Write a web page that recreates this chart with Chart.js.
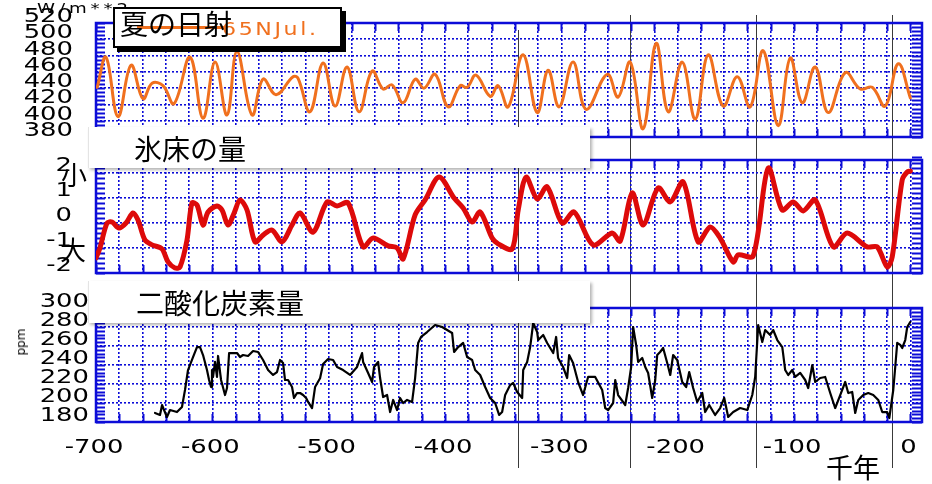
<!DOCTYPE html>
<html>
<head>
<meta charset="utf-8">
<script src="https://cdn.jsdelivr.net/npm/chart.js@4/dist/chart.umd.min.js"></script>
<style>
html, body { margin: 0; padding: 0; background: #fff; }
#wrap { position: relative; width: 932px; height: 484px; overflow: hidden; background: #fff; }
#wrap canvas { position: absolute; left: 0; top: 0; }
.t { position: absolute; white-space: nowrap; line-height: 1; }
.jp { font-family: "Noto Sans CJK JP", sans-serif; color: #000; }
.dv { font-family: "DejaVu Sans", sans-serif; }
.box { position: absolute; background: #fff; box-sizing: border-box; }
</style>
</head>
<body>
<div id="wrap">
  <canvas id="insolChart" width="932" height="484"></canvas>
  <canvas id="iceChart" width="932" height="484"></canvas>
  <canvas id="co2Chart" width="932" height="484"></canvas>

  <div class="t dv" style="left:37px;top:1px;font-size:14px;letter-spacing:3px;color:#000;transform:scaleX(1.3);transform-origin:0 0;">W/m**2</div>
  <div class="t jp" style="left:61px;top:161px;font-size:26px;">小</div>
  <div class="t jp" style="left:60px;top:236px;font-size:26px;">大</div>
  <div class="t dv" style="left:21px;top:342px;font-size:12px;color:#000;transform:translate(-50%,-50%) rotate(-90deg);">ppm</div>

  <div class="box" style="left:113px;top:7px;width:229px;height:41px;border:2px solid #000;box-shadow:4px 4px 0 #000;">
    <div style="position:absolute;left:22px;top:17px;width:88px;height:3px;background:#f0701e;"></div>
    <div class="t dv" style="left:107px;top:12px;font-size:17px;letter-spacing:2px;color:#f0701e;transform:scaleX(1.3);transform-origin:0 0;">65NJul.</div>
    <div class="t jp" style="left:5px;top:0px;font-size:28px;">夏の日射</div>
  </div>
  <div class="box" style="left:88px;top:127px;width:502px;height:41px;box-shadow:2px 2px 3px rgba(0,0,0,0.3);border-left:1px solid #e4e4e4;">
    <div class="t jp" style="left:45px;top:7px;font-size:28px;">氷床の量</div>
  </div>
  <div class="box" style="left:88px;top:281px;width:502px;height:42px;box-shadow:2px 2px 3px rgba(0,0,0,0.3);border-left:1px solid #e4e4e4;">
    <div class="t jp" style="left:47px;top:7px;font-size:28px;">二酸化炭素量</div>
  </div>
  <div class="t jp" style="left:826px;top:453px;font-size:27px;">千年</div>
</div>

<script>
// Summer insolation at 65N in July (W/m^2), by age in thousands of years
const insolKa = [-699, -691.4, -681.1, -669.9, -659.6, -651.8, -642.4, -632.9, -619.2, -608,
  -597.7, -587.4, -578.8, -565.9, -556.4, -545.2, -530.6, -526.3, -516, -504.8,
  -494.5, -484.2, -473.9, -462.7, -453.2, -445.5, -436, -425.7, -418, -408.5,
  -397.3, -387, -381, -373.3, -361.2, -354.3, -345.7, -332.9, -320.8, -311.4,
  -301.9, -289.9, -278.7, -260.6, -251.2, -240.8, -229.7, -218.5, -208.2, -196.1,
  -184.9, -173.8, -160.9, -148.8, -137.7, -126.5, -113.6, -103.3, -92.9, -81.8,
  -70.6, -56, -43.1, -32.8, -21.6, -10.4, 0];
const insolW = [441, 478, 405, 468, 427, 446, 443, 421, 478, 403,
  472, 407, 485, 407, 451, 432, 454, 452, 411, 471,
  418, 466, 411, 461, 439, 444, 422, 451, 440, 457,
  417, 443, 441, 456, 430, 443, 417, 481, 410, 462,
  417, 472, 414, 457, 429, 472, 390, 495, 411, 472,
  402, 481, 418, 454, 417, 486, 394, 477, 422, 466,
  410, 459, 439, 441, 418, 470, 428];

// Ice volume index (up = small ice sheets, down = large)
const iceKa = [-700, -696.6, -690.5, -686.2, -680.2, -674.2, -668.2, -663.9, -657.9, -651.8,
  -643.3, -638.1, -632.1, -627.8, -621.8, -617.5, -613.2, -608, -603.7, -596,
  -591.7, -586.5, -581.3, -576.2, -570.2, -563.3, -556.4, -548.7, -540.1, -531.5,
  -524.6, -513.4, -501.4, -492.8, -483.3, -470.4, -461.8, -448.9, -441.2, -436,
  -425.7, -417.1, -405.1, -392.2, -384.4, -376.7, -369.8, -359.5, -354.3, -342.3,
  -337.1, -330.3, -320.8, -312.2, -299.3, -289, -272.7, -256.3, -249.4, -239.1,
  -229.7, -216.8, -206.4, -195.3, -182.4, -172.1, -163.5, -152.3, -148, -135.1,
  -122.2, -110.2, -100.7, -92.1, -81.8, -66.3, -54.3, -37.1, -28.5, -19.9,
  -15.6, -7, -2.7, 0];
const iceIndex = [-1.4, -1.0, -0.01, 0.03, -0.21, -0.01, 0.39, 0.11, -0.69, -0.88,
  -1.04, -1.56, -1.8, -1.76, -0.69, 0.79, 0.71, -0.09, 0.43, 0.67,
  0.51, -0.09, 0.39, 0.91, 0.51, -0.76, -0.49, -0.29, -0.76, -0.09,
  0.39, -0.37, 0.83, 0.67, 0.79, -0.96, -0.61, -0.92, -1.0, -1.44,
  0.31, 0.91, 1.82, 0.99, 0.59, 0.03, 0.43, -0.61, -0.84, -1.04,
  0.51, 1.82, 0.95, 1.43, -0.01, 0.43, -0.88, -0.41, -0.73, 1.19,
  -0.09, 1.39, 0.83, 1.63, -0.76, -0.17, -0.61, -1.56, -1.28, -1.32,
  2.18, 0.51, 0.83, 0.47, 0.91, -0.96, -0.41, -0.96, -0.96, -1.76,
  -1.36, 1.71, 2.02, 2.06];

// Atmospheric CO2 (ppm)
const co2Ka = [-649.3, -645, -643.2, -641.5, -639, -636.4, -630.4, -626.1, -623.5, -620.9,
  -616.6, -613.2, -610.6, -608, -604.6, -602.8, -601.1, -600.3, -599.4, -597.7,
  -596, -595.1, -592.5, -589.1, -587.4, -585.6, -578.8, -576.2, -573.6, -569.3,
  -565, -560.7, -556.4, -552.1, -547.8, -544.4, -541.8, -539.2, -537.5, -534.9,
  -531.5, -529.8, -527.2, -524.6, -522, -519.4, -517.7, -514.3, -511.7, -507.4,
  -504.8, -500.5, -496.2, -492.8, -487.6, -481.6, -475.6, -471.3, -470.4, -466.1,
  -462.7, -461, -457.5, -455.8, -453.2, -449.8, -447.2, -444.6, -441.2, -438.6,
  -436, -432.6, -428.3, -425.7, -423.1, -420.6, -415.4, -408.5, -402.5, -398.2,
  -393.9, -392.2, -388.7, -384.4, -381, -376.7, -374.1, -369.8, -365.5, -361.2,
  -356.9, -353.5, -350.9, -348.3, -344, -341.4, -338, -333.7, -332.8, -329.4,
  -326.8, -324.2, -320.8, -319.9, -315.6, -312.2, -307, -304.5, -302.8, -298.5,
  -295, -293.3, -289.9, -285.6, -281.3, -277, -270.9, -264.9, -262.3, -259.8,
  -255.5, -253.7, -251.2, -245.1, -242.6, -240, -238.3, -235.7, -234, -230.5,
  -227.9, -225.4, -221.9, -219.3, -217.6, -215.1, -212.5, -209, -206.4, -203.9,
  -200.4, -196.1, -192.7, -190.1, -186.7, -183.2, -178.9, -176.4, -172.9, -167.8,
  -163.5, -160, -156.6, -152.3, -146.3, -140.2, -135.9, -133.4, -130.8, -127.3,
  -124.8, -120.5, -117.9, -114.4, -110.1, -107.6, -105, -101.5, -99, -94.7,
  -90.4, -87.8, -84.3, -81.8, -77.5, -73.2, -68.9, -64.6, -60.3, -56,
  -53.4, -50, -47.4, -44.8, -40.5, -36.2, -31.9, -27.6, -24.2, -19.9,
  -18.1, -14.7, -13, -11.3, -8.7, -7, -4.4, -2.7, -0.1];
const co2Ppm = [189.5, 187.4, 197.9, 192.6, 185.3, 192.6, 190.5, 195.8, 213.7, 234.7,
  248.4, 258.9, 258.9, 250.5, 234.7, 224.2, 216.8, 234.7, 227.4, 243.2,
  227.4, 249.5, 224.2, 208.4, 215.8, 252.6, 252.6, 248.4, 250.5, 249.5,
  254.7, 253.7, 245.3, 234.7, 229.5, 232.6, 245.3, 242.1, 224.2, 224.2,
  216.8, 205.3, 210.5, 210.5, 208.4, 205.3, 201.1, 194.7, 216.8, 226,
  241, 246.3, 245.3, 237.9, 234.7, 229.5, 237.9, 252.6, 243.2, 231.6,
  222.1, 237.9, 243.2, 226.3, 206.3, 208.4, 190.5, 203.2, 192.6, 205.3,
  200, 203.2, 201.1, 226.3, 263.2, 269.5, 274.7, 282.1, 280, 276.8,
  273.7, 253.7, 258.9, 263.2, 248.4, 245.3, 234.7, 229.5, 216.8, 205.3,
  200, 187.4, 190.5, 208.4, 218.9, 221.1, 211.6, 205.3, 234.7, 243.2,
  258.9, 284.2, 274.7, 266.3, 271.6, 263.2, 252.6, 269.5, 247.4, 237.9,
  226.3, 250.5, 242.1, 222.1, 208.4, 227.4, 227.4, 213.7, 194.7, 192.6,
  200, 224.2, 208.4, 197.9, 215.8, 237.9, 280, 261.1, 243.2, 247.4,
  237.9, 231.6, 205.3, 224.2, 250.5, 253.7, 257.9, 242.1, 229.5, 250.5,
  245.3, 222.1, 216.8, 232.6, 215.8, 201.1, 210.5, 190.5, 197.9, 187.4,
  194.7, 205.3, 185.3, 190.5, 194.7, 192.6, 208.4, 227.4, 282.1, 264.2,
  276.8, 271.6, 276.8, 266.3, 258.9, 234.7, 229.5, 234.7, 227.4, 231.6,
  224.2, 215.8, 240, 222.1, 226.3, 227.4, 210.5, 194.7, 208.4, 222.1,
  210.5, 211.6, 189.5, 203.2, 208.4, 210.5, 208.4, 203.2, 190.5, 190.5,
  184.2, 213.7, 237.9, 263.2, 261.1, 257.9, 266.3, 280, 285.3];

// Ages of the glacial terminations marked across all panels
const terminations = [-337, -241, -133, -16];

const BLUE = '#0c0cd8';
const LABEL_FONT = '19px "DejaVu Sans"';
const LABEL_STRETCH = 1.36;

function pairs(xs, ys) { return xs.map((x, i) => ({ x, y: ys[i] })); }

// Horizontally widened tick labels, placed from the scales' own ticks
const labelPlugin = {
  id: 'wideLabels',
  afterDraw(chart, args, o) {
    const { ctx, scales: { x, y } } = chart;
    const put = (text, px, py, align) => {
      ctx.save();
      ctx.translate(px, py);
      ctx.scale(LABEL_STRETCH, 1);
      ctx.textAlign = align;
      ctx.fillText(text, 0, 0);
      ctx.restore();
    };
    ctx.save();
    ctx.fillStyle = '#000';
    ctx.font = LABEL_FONT;
    ctx.textBaseline = 'middle';
    y.ticks.forEach(t => put(String(t.value), o.yRight, y.getPixelForValue(t.value) + o.yOffset, 'right'));
    if (o.xLabelY) {
      x.ticks.forEach(t => {
        if (t.value % 100 === 0) put(String(t.value), x.getPixelForValue(t.value) - 2, o.xLabelY, 'center');
      });
    }
    ctx.restore();
  }
};

// Solid frame with minor-tick combs on the left/right edges and short marks on top/bottom
const framePlugin = {
  id: 'frame',
  beforeDatasetsDraw(chart, args, opts) {
    const { ctx, chartArea: a, scales: { x, y } } = chart;
    ctx.save();
    ctx.strokeStyle = BLUE;
    ctx.lineWidth = 2;
    ctx.beginPath();
    const n = Math.round((y.max - y.min) / opts.minorStep);
    for (let i = 0; i <= n; i++) {
      const py = Math.round(y.getPixelForValue(y.min + i * opts.minorStep)) + 0.5;
      ctx.moveTo(a.left, py); ctx.lineTo(a.left + 9, py);
      ctx.moveTo(a.right, py); ctx.lineTo(a.right - 10, py);
    }
    x.ticks.forEach(t => {
      const px = Math.round(x.getPixelForValue(t.value)) + 0.5;
      ctx.moveTo(px, a.top); ctx.lineTo(px, a.top + 8);
      ctx.moveTo(px, a.bottom); ctx.lineTo(px, a.bottom - 8);
    });
    ctx.stroke();
    ctx.lineWidth = 2.5;
    ctx.strokeRect(a.left, a.top, a.right - a.left, a.bottom - a.top);
    ctx.restore();
  }
};

// Thin vertical lines through all three panels at each termination
const lineTops = [30, 15, 15, 15];
const terminationPlugin = {
  id: 'terminations',
  beforeDatasetsDraw(chart) {
    const { ctx, scales: { x } } = chart;
    ctx.save();
    ctx.strokeStyle = '#3a3a3a';
    ctx.lineWidth = 1;
    terminations.forEach((ka, i) => {
      const px = Math.round(x.getPixelForValue(ka)) + 0.5;
      ctx.beginPath();
      ctx.moveTo(px, lineTops[i]);
      ctx.lineTo(px, 468);
      ctx.stroke();
    });
    ctx.restore();
  }
};

function xScale() {
  return {
    type: 'linear', min: -700, max: 10,
    ticks: { stepSize: 20, includeBounds: false, autoSkip: false, display: false },
    grid: { color: BLUE, lineWidth: 1.6, drawTicks: false },
    border: { display: false, dash: [2, 2] },
    afterFit(s) { s.height = 0; s.paddingLeft = 0; s.paddingRight = 0; }
  };
}

function yScale(min, max, step) {
  return {
    type: 'linear', min, max,
    ticks: { stepSize: step, includeBounds: false, autoSkip: false, display: false },
    grid: { color: BLUE, lineWidth: 1.6, drawTicks: false },
    border: { display: false, dash: [2, 2] },
    afterFit(s) { s.width = 96; s.paddingTop = 0; s.paddingBottom = 0; }
  };
}

function panel(id, points, line, y, area, labels, minorStep, extra) {
  return new Chart(document.getElementById(id), {
    type: 'line',
    data: { datasets: [Object.assign({ data: points, pointRadius: 0, fill: false,
      borderJoinStyle: 'round', borderCapStyle: 'round' }, line)] },
    options: {
      responsive: false, animation: false, events: [],
      layout: { padding: { left: 0, right: 932 - area.right, top: area.top, bottom: 484 - area.bottom } },
      scales: { x: xScale(), y },
      plugins: { legend: { display: false }, tooltip: { enabled: false },
        frame: { minorStep }, wideLabels: labels }
    },
    plugins: (extra || []).concat([framePlugin, labelPlugin])
  });
}

panel('insolChart', pairs(insolKa, insolW),
  { borderColor: '#f0701e', borderWidth: 3, tension: 0.4 },
  yScale(380, 520, 20), { top: 23, bottom: 137, right: 922 },
  { yRight: 73, yOffset: -6 }, 5, [terminationPlugin]);

panel('iceChart', pairs(iceKa, iceIndex),
  { borderColor: '#dd0a0a', borderWidth: 5, tension: 0.3 },
  yScale(-2, 2.5, 1), { top: 160, bottom: 273, right: 922 },
  { yRight: 72, yOffset: -6.5 }, 0.2);

panel('co2Chart', pairs(co2Ka, co2Ppm),
  { borderColor: '#000', borderWidth: 2.2, tension: 0 },
  yScale(180, 300, 20), { top: 308, bottom: 422, right: 922 },
  { yRight: 89, yOffset: -6, xLabelY: 448 }, 4);
</script>
</body>
</html>
